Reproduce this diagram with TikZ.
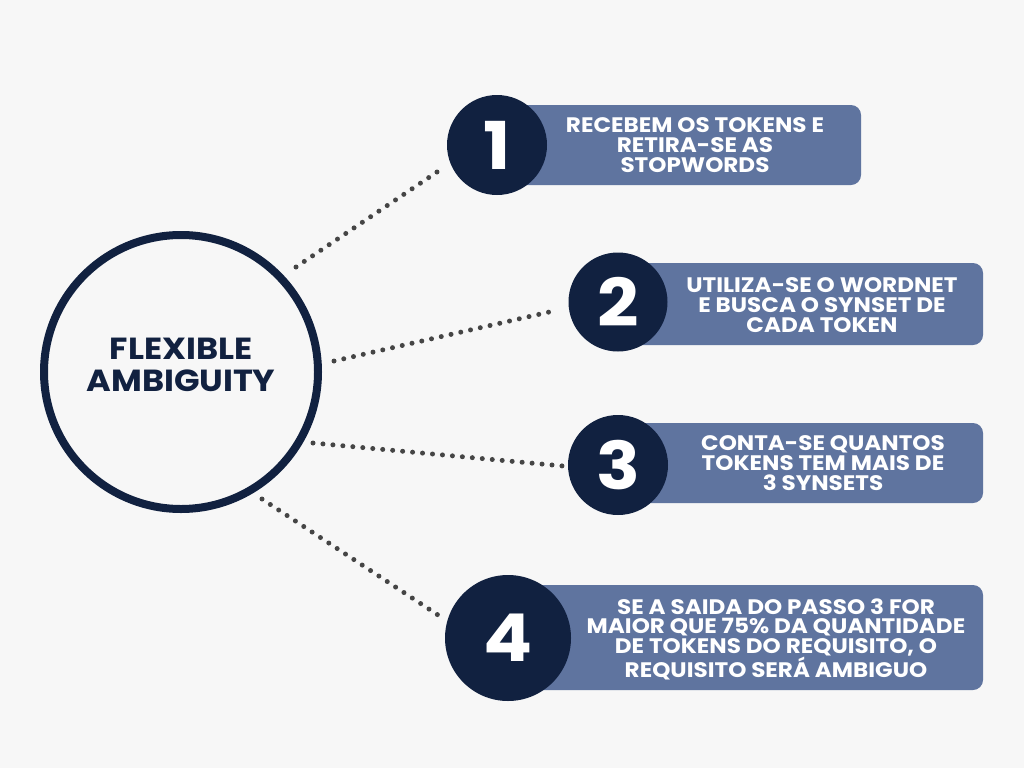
\documentclass[tikz,border=0pt]{standalone}
\usepackage{fontspec}
\setmainfont{Poppins}[BoldFont={* Bold}, FakeStretch=1.1]
\definecolor{bg}{HTML}{F7F7F7}
\definecolor{navy}{HTML}{112140}
\definecolor{boxblue}{HTML}{5F749F}
\definecolor{dotgray}{HTML}{454545}
\tikzset{
  stepbox/.style={fill=boxblue, rounded corners=10pt, inner sep=0pt},
  numcircle/.style={circle, fill=navy, inner sep=0pt, text=white, font=\bfseries\fontsize{66}{66}\selectfont},
  steptext/.style={text=white, align=center, inner sep=0pt, font=\bfseries\fontsize{21}{19.8}\selectfont},
  dotline/.style={dotgray, line width=5pt, line cap=round, dash pattern=on 0pt off 10pt},
}
\begin{document}
\begin{tikzpicture}[x=1pt,y=-1pt]
\fill[bg] (0,0) rectangle (1024,768);
\useasboundingbox (0,0) rectangle (1024,768);

% main circle
\node[circle, draw=navy, line width=8pt, fill=bg, minimum size=274pt, inner sep=0pt] (main) at (181,372) {};
\node[align=center, text=navy, inner sep=0pt, font=\bfseries\fontsize{30.5}{32}\selectfont] (title) at (181,365) {FLEXIBLE\\AMBIGUITY};

% boxes
\node[stepbox, minimum width=364pt, minimum height=80pt] (b1) at (679,145) {};
\node[stepbox, minimum width=365pt, minimum height=82pt] (b2) at (800.5,304) {};
\node[stepbox, minimum width=365pt, minimum height=80pt] (b3) at (800.5,463) {};
\node[stepbox, minimum width=475pt, minimum height=105pt] (b4) at (745.5,637.5) {};

% number circles
\node[numcircle, minimum size=100pt] (n1) at (497,145) {1};
\node[numcircle, minimum size=99pt] (n2) at (618,302) {2};
\node[numcircle, minimum size=100pt] (n3) at (618,465) {3};
\node[numcircle, minimum size=126pt] (n4) at (508,638) {4};

% texts
\node[steptext] (t1) at (695,145) {RECEBEM OS TOKENS E\\RETIRA-SE AS\\STOPWORDS};
\node[steptext] (t2) at (822,305) {UTILIZA-SE O WORDNET\\E BUSCA O SYNSET DE\\CADA TOKEN};
\node[steptext] (t3) at (823,463) {CONTA-SE QUANTOS\\TOKENS TEM MAIS DE\\3 SYNSETS};
\node[steptext] (t4) at (776,639.5) {SE A SAIDA DO PASSO 3 FOR\\MAIOR QUE 75\% DA QUANTIDADE\\DE TOKENS DO REQUISITO, O\\REQUISITO SERÁ AMBIGUO};

% connector end points
\coordinate (s1) at (296,267); \coordinate (e1) at (437,172);
\coordinate (s2) at (334,361); \coordinate (e2) at (558,310);
\coordinate (s3) at (313,443); \coordinate (e3) at (563,466);
\coordinate (s4) at (262,499); \coordinate (e4) at (438,615);
\draw[dotline] (s1) -- (e1);
\draw[dotline] (s2) -- (e2);
\draw[dotline] (s3) -- (e3);
\draw[dotline] (s4) -- (e4);
\end{tikzpicture}
\end{document}
